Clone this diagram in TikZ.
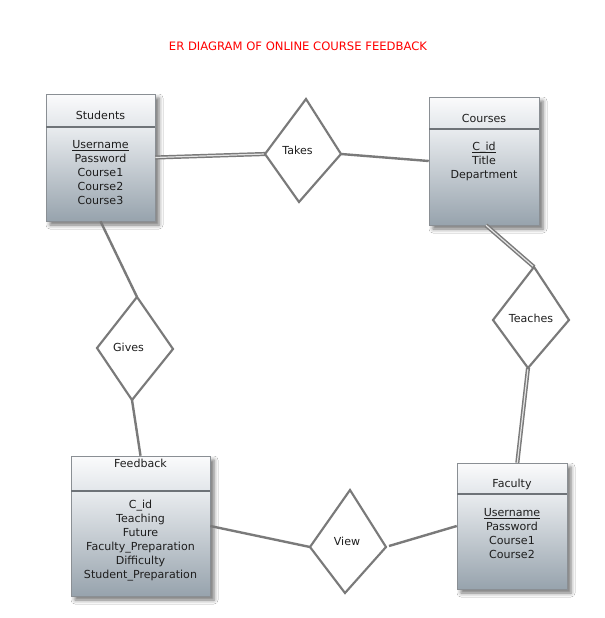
\documentclass[tikz,border=0pt]{standalone}
\usepackage{fontspec}
\setmainfont{DejaVu Sans}
\usetikzlibrary{shadows.blur,fit,calc}
\definecolor{bodytop}{HTML}{E9ECEF}
\definecolor{bodybot}{HTML}{97A3AD}
\definecolor{headtop}{HTML}{FBFBFC}
\definecolor{headbot}{HTML}{E2E6EA}
\definecolor{edgegray}{HTML}{8A8F94}
\definecolor{sepgray}{HTML}{6E7378}
\definecolor{linkgray}{HTML}{7A7A7A}
\definecolor{txt}{HTML}{1E1E1E}
\tikzset{
  enttext/.style={font=\fontsize{8.3}{10.5}\selectfont, text=txt, align=center, inner sep=0},
  link/.style={draw=linkgray, line width=1.8pt},
  dlink/.style={draw=linkgray, line width=1.1pt, double=white!80!linkgray, double distance=0.9pt},
  relshape/.style={draw=linkgray, line width=1.6pt, fill=white, line join=miter},
}
\newcommand\uline[1]{\underline{\smash{#1}\vphantom{d}}}
% name, x1, y1, x2, y2, ysep
\newcommand\myentity[6]{%
  \path[blur shadow={shadow xshift=3pt, shadow yshift=-3pt, shadow blur radius=3pt, shadow opacity=55}] (#2,#3) rectangle (#4,#5);
  \shade[top color=headtop, bottom color=headbot] (#2,#3) rectangle (#4,#6);
  \shade[top color=bodytop, bottom color=bodybot] (#2,#6) rectangle (#4,#5);
  \draw[edgegray, line width=0.7pt] (#2,#3) rectangle (#4,#5);
  \draw[sepgray, line width=1.5pt] (#2,#6) -- (#4,#6);
  \node[inner sep=0, fit={(#2,#3)(#4,#5)}] (#1) {};
}
% name, top, left, right, bottom, text position, label
\newcommand\myrel[7]{%
  \coordinate (#1-t) at (#2);
  \coordinate (#1-l) at (#3);
  \coordinate (#1-r) at (#4);
  \coordinate (#1-b) at (#5);
  \draw[relshape] (#1-t) -- (#1-r) -- (#1-b) -- (#1-l) -- cycle;
  \node[enttext] (#1) at (#6) {#7};
}
\begin{document}
\begin{tikzpicture}[x=0.75pt, y=-0.75pt]
\fill[white] (0,0) rectangle (605,618);
\useasboundingbox (0,0) rectangle (605,618);

\node[font=\fontsize{8.7}{10}\selectfont, text=red, inner sep=0] (title) at (298,46) {ER DIAGRAM OF ONLINE COURSE FEEDBACK};

% entities
\myentity{stud}{46}{94}{155}{221}{127}
\node[enttext] (studh) at (100.5,115) {Students};
\node[enttext] (studa) at (100.5,172) {\uline{Username}\\Password\\Course1\\Course2\\Course3};

\myentity{crs}{429}{97}{539}{225}{129}
\node[enttext] (crsh) at (484,118) {Courses};
\node[enttext] (crsa) at (484,161.5) {\uline{C\_id}\\Title\\Department};

\myentity{fb}{71}{456}{210}{596}{491}
\node[enttext] (fbh) at (140.5,463) {Feedback};
\node[enttext] (fba) at (140.5,540.5) {C\_id\\Teaching\\Future\\Faculty\_Preparation\\Difficulty\\Student\_Preparation};

\myentity{fac}{457}{463}{567}{589}{494}
\node[enttext] (fach) at (512,484) {Faculty};
\node[enttext] (faca) at (512,533.5) {\uline{Username}\\Password\\Course1\\Course2};

% connectors (drawn before diamonds)
\draw[dlink] (stud.east) -- (265,154) coordinate (takesL);
\draw[link] (341,154) coordinate (takesR) -- (crs.west);
\draw[dlink] ([xshift=1.5pt]crs.south) -- (534,267) coordinate (teachT);
\draw[dlink] (528,368) coordinate (teachB) -- ([xshift=4pt]fac.north);
\draw[link] (stud.south) -- (137,297) coordinate (givesT);
\draw[link] (132,400) coordinate (givesB) -- (fb.north);
\draw[link] (fb.east) -- (310,547) coordinate (viewL);
\draw[link] (389,546) coordinate (viewR) -- (fac.west);

% relationships
\myrel{takes}{306,99}{265,154}{341,154}{299,202}{297.5,150}{Takes}
\myrel{teach}{534,267}{493,320}{569,320}{528,368}{531,318}{Teaches}
\myrel{gives}{137,297}{97,348}{173,349}{132,400}{128.5,347}{Gives}
\myrel{view}{350,490}{310,547}{386,547}{345,593}{347,541}{View}
\end{tikzpicture}
\end{document}
